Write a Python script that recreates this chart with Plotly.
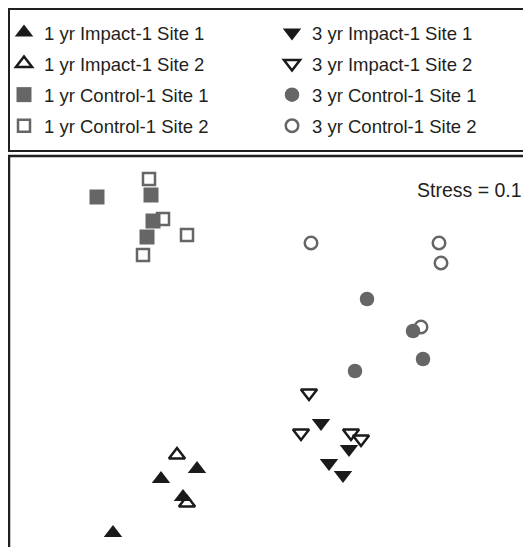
import plotly.graph_objects as go

# NMDS ordination coordinates
imp1_s1_x = [-0.36, -0.54, -0.43, -0.78]
imp1_s1_y = [-0.57, -0.62, -0.71, -0.89]
imp1_s2_x = [-0.46, -0.41]
imp1_s2_y = [-0.50, -0.74]

ctl1_s1_x = [-0.86, -0.59, -0.58, -0.61]
ctl1_s1_y = [0.79, 0.80, 0.67, 0.59]
ctl1_s2_x = [-0.60, -0.53, -0.41, -0.63]
ctl1_s2_y = [0.88, 0.68, 0.60, 0.50]

imp3_s1_x = [0.26, 0.40, 0.30, 0.37]
imp3_s1_y = [-0.34, -0.47, -0.54, -0.60]
imp3_s2_x = [0.20, 0.16, 0.41, 0.46]
imp3_s2_y = [-0.19, -0.39, -0.39, -0.42]

ctl3_s1_x = [0.49, 0.72, 0.77, 0.43]
ctl3_s1_y = [0.28, 0.12, -0.02, -0.08]
ctl3_s2_x = [0.21, 0.85, 0.86, 0.76]
ctl3_s2_y = [0.56, 0.56, 0.46, 0.14]

stress_label = "Stress = 0.1"

GRAY = "#666666"
BLACK = "#1a1a1a"
FONT = "Liberation Sans, Arial, Helvetica, sans-serif"

fig = go.Figure()

def add(name, x, y, symbol, size, fill, line_color, line_width, legend, rank):
    fig.add_trace(go.Scatter(
        x=x, y=y, mode="markers", name=name,
        marker=dict(symbol=symbol, size=size, color=fill,
                    line=dict(color=line_color, width=line_width)),
        legend=legend, legendgroup=name, legendrank=rank,
    ))

# draw open (Site 2) markers under filled (Site 1)
add("1 yr Control-1 Site 2", ctl1_s2_x, ctl1_s2_y, "square", 12, "white", GRAY, 2.5, "legend", 4)
add("1 yr Control-1 Site 1", ctl1_s1_x, ctl1_s1_y, "square", 15, GRAY, GRAY, 0, "legend", 3)
add("3 yr Control-1 Site 2", ctl3_s2_x, ctl3_s2_y, "circle", 12.5, "white", GRAY, 2.5, "legend2", 4)
add("3 yr Control-1 Site 1", ctl3_s1_x, ctl3_s1_y, "circle", 14.5, GRAY, GRAY, 0, "legend2", 3)
add("3 yr Impact-1 Site 2", imp3_s2_x, imp3_s2_y, "triangle-down", 14, "white", BLACK, 2.5, "legend2", 2)
add("3 yr Impact-1 Site 1", imp3_s1_x, imp3_s1_y, "triangle-down", 16, BLACK, BLACK, 0, "legend2", 1)
add("1 yr Impact-1 Site 2", imp1_s2_x, imp1_s2_y, "triangle-up", 14, "white", BLACK, 2.5, "legend", 2)
add("1 yr Impact-1 Site 1", imp1_s1_x, imp1_s1_y, "triangle-up", 16, BLACK, BLACK, 0, "legend", 1)

# page body has an 8px margin: the figure starts at window (8, 8)
OFF = 8
WIN_W, WIN_H = 531, 547
W, H = WIN_W - OFF, WIN_H - OFF
ML, MT = 10 - OFF, 156 - OFF
PW, PH = W - ML, H - MT

def px_to_paper_x(px):  # px in window coordinates
    return (px - OFF - ML) / PW

def py_to_paper_y(py):  # py in window coordinates
    return (H - (py - OFF)) / PH

legend_common = dict(
    font=dict(family=FONT, size=18.5, color="#231f20"),
    bgcolor="rgba(0,0,0,0)", borderwidth=0,
    traceorder="grouped", tracegroupgap=4,
    xanchor="left", yanchor="top", itemclick=False,
)

fig.update_layout(
    width=W, height=H,
    margin=dict(l=ML, r=0, t=MT, b=0, autoexpand=False),
    paper_bgcolor="white", plot_bgcolor="white",
    showlegend=True,
    legend=dict(x=px_to_paper_x(4), y=py_to_paper_y(14), **legend_common),
    legend2=dict(x=px_to_paper_x(272), y=py_to_paper_y(14), **legend_common),
    xaxis=dict(range=[-1.295, 1.31], showgrid=False, zeroline=False,
               showticklabels=False, ticks="", showline=False),
    yaxis=dict(range=[-0.96, 0.995], showgrid=False, zeroline=False,
               showticklabels=False, ticks="", showline=False),
    font=dict(family=FONT),
    shapes=[
        # legend frame
        dict(type="rect", xref="paper", yref="paper",
             x0=px_to_paper_x(9), x1=px_to_paper_x(560),
             y0=py_to_paper_y(151), y1=py_to_paper_y(9),
             line=dict(color="#231f20", width=2), fillcolor="rgba(0,0,0,0)",
             layer="below"),
        # plot frame
        dict(type="rect", xref="paper", yref="paper",
             x0=px_to_paper_x(9), x1=px_to_paper_x(580),
             y0=py_to_paper_y(600), y1=py_to_paper_y(156),
             line=dict(color="#231f20", width=2.5), fillcolor="rgba(0,0,0,0)",
             layer="below"),
    ],
    annotations=[
        dict(text=stress_label, xref="paper", yref="paper",
             x=px_to_paper_x(524), y=py_to_paper_y(190),
             xanchor="right", yanchor="middle", showarrow=False,
             font=dict(family=FONT, size=19.5, color="#231f20")),
    ],
)

fig.write_html("out.html")
